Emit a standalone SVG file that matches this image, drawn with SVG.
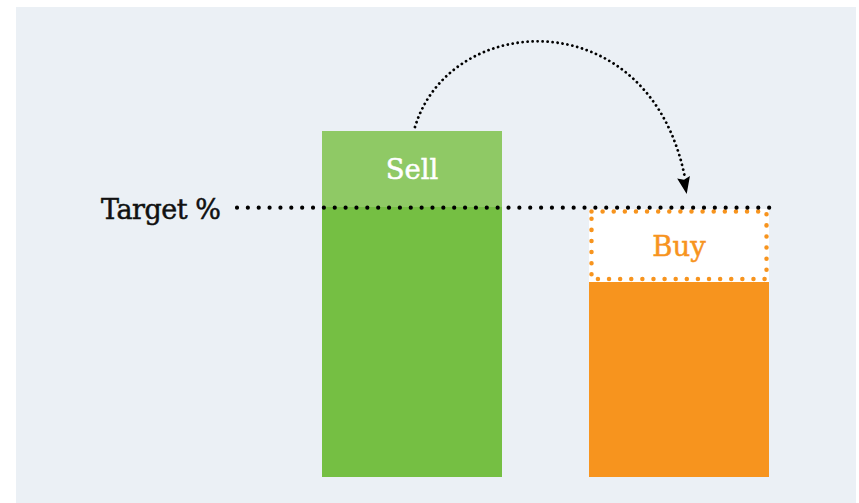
<svg xmlns="http://www.w3.org/2000/svg" width="859" height="503" viewBox="0 0 859 503">
<style>
.lbl{font-family:"DejaVu Serif","Liberation Serif",serif;font-size:27.5px;text-anchor:middle;stroke-width:0.5px}
</style>
<defs>
<marker id="ah" viewBox="0 0 10 10" preserveAspectRatio="none" refX="10" refY="5" markerUnits="userSpaceOnUse" markerWidth="17" markerHeight="13" orient="auto">
<path d="M0,0 L10,5 L0,10 L1.5,5 Z" fill="#000"/>
</marker>
</defs>
<rect x="0" y="0" width="859" height="503" fill="#fff"/>
<rect x="16" y="7" width="840" height="496" fill="#ebf0f5"/>
<g id="sell">
<rect x="322" y="131" width="180" height="346" fill="#75bf43"/>
<rect x="322" y="131" width="180" height="76" fill="#8fc965"/>
<text class="lbl" x="412" y="179" fill="#fff" stroke="#fff">Sell</text>
</g>
<g id="buy">
<rect x="589" y="282" width="180" height="195" fill="#f7941e"/>
<rect x="589" y="209" width="180" height="73" fill="#fff"/>
<rect x="591.5" y="211.5" width="175" height="67.5" fill="none" stroke="#f7941e" stroke-width="4.5" stroke-linecap="round" stroke-dasharray="0.01 11.1"/>
<text class="lbl" x="679" y="256" fill="#f7941e" stroke="#f7941e">Buy</text>
</g>
<g id="target">
<text x="101" y="219" font-family="DejaVu Serif, Liberation Serif, serif" font-size="27" textLength="120" fill="#111" stroke="#111" stroke-width="0.5">Target %</text>
</g>
<g id="connectors">
<line x1="237" y1="207.7" x2="769.5" y2="207.7" stroke="#000" stroke-width="4.2" stroke-linecap="round" stroke-dasharray="0.01 10.85"/>
<path d="M415,127 C450,10 650,0 685,178" fill="none" stroke="#000" stroke-width="2.8" stroke-linecap="round" stroke-dasharray="0.01 5"/>
<path d="M415,127 C450,10 650,0 686.7,194" fill="none" stroke="none" marker-end="url(#ah)"/>
</g>
</svg>
